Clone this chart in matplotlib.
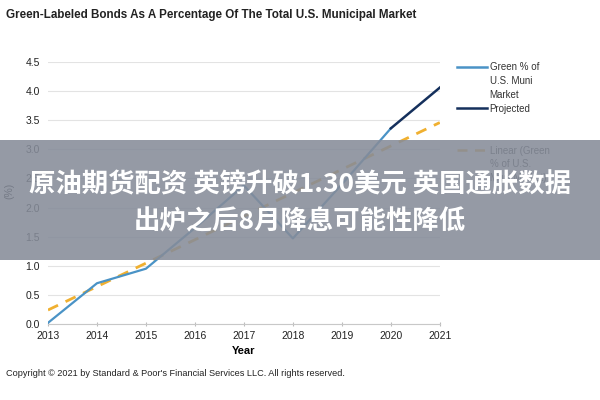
import matplotlib.pyplot as plt
from matplotlib.lines import Line2D
from matplotlib.patches import Rectangle

# values
years = [2013, 2014, 2015, 2016, 2017, 2018, 2019, 2020]
green_pct = [0.02, 0.70, 0.95, 1.65, 2.38, 1.47, 2.40, 3.36]
proj_years = [2020, 2021]
proj_pct = [3.36, 4.06]
trend_years = [2013, 2021]
trend_pct = [0.24, 3.46]

x_ticks = list(range(2013, 2022))
y_ticks = [0.0, 0.5, 1.0, 1.5, 2.0, 2.5, 3.0, 3.5, 4.0, 4.5]

legend_labels = ['Green % of\nU.S. Muni\nMarket', 'Projected', 'Linear (Green\n% of U.S.\nMuni Market)']

plt.rcParams['font.family'] = ['Liberation Sans', 'DejaVu Sans']

fig = plt.figure(figsize=(6, 4), dpi=100)
ax = fig.add_axes([0.08, 0.19, 0.653, 0.655])

green_c, proj_c, trend_c = '#4a93c6', '#15305c', '#f0b030'
trend_ls = (0, (4, 3))

ax.plot(years, green_pct, color=green_c, lw=1.6, zorder=3)
ax.plot(proj_years, proj_pct, color=proj_c, lw=1.8, zorder=3)
ax.plot(trend_years, trend_pct, color=trend_c, lw=2, ls=trend_ls, zorder=2)

ax.set_xlim(2013, 2021)
ax.set_ylim(0, 4.5)
ax.set_xticks(x_ticks)
ax.set_yticks(y_ticks)
ax.set_yticklabels([f'{v:.1f}' for v in y_ticks])
ax.tick_params(axis='both', labelsize=7.5, colors='#222222')
ax.tick_params(axis='y', length=0, pad=6)
ax.tick_params(axis='x', length=3, color='#bbbbbb', direction='inout')
ax.grid(axis='y', color='#e3e3e3', lw=0.8)
ax.set_axisbelow(True)
for s in ['top', 'right', 'left']:
    ax.spines[s].set_visible(False)
ax.spines['bottom'].set_color('#c8c8c8')

ax.set_xlabel('Year', fontsize=8, fontweight='bold', labelpad=4)
ax.set_ylabel('(%)', fontsize=7.5)
ax.yaxis.set_label_coords(-0.085, 0.51)

# legend drawn Excel-style: handle level with the first text line
leg_y = [0.833, 0.73, 0.625]
leg_c = [green_c, proj_c, trend_c]
leg_ls = ['-', '-', trend_ls]
for y, lab, c, ls in zip(leg_y, legend_labels, leg_c, leg_ls):
    fig.add_artist(Line2D([0.762, 0.811], [y, y], color=c, lw=1.8, ls=ls))
    fig.text(0.816, y + 0.011, lab, fontsize=7, color='#333333', va='top',
             linespacing=1.45)

fig.text(0.01, 0.962, 'Green-Labeled Bonds As A Percentage Of The Total U.S. Municipal Market',
         fontsize=8.4, fontweight='bold', color='#222222', va='center')
fig.text(0.01, 0.065, 'Copyright \u00a9 2021 by Standard & Poor\'s Financial Services LLC. All rights reserved.',
         fontsize=6.6, color='#222222', va='center')

# grey banner over the middle of the picture
fig.patches.append(Rectangle((0, 0.35), 1, 0.3, transform=fig.transFigure,
                             facecolor='#868c99', alpha=0.88, zorder=10))
cjk = ['Noto Sans CJK SC', 'DejaVu Sans']
fig.text(0.5, 0.538, '原油期货配资 英镑升破1.30美元 英国通胀数据', family=cjk,
         fontsize=19, fontweight='bold', color='white', ha='center', va='center', zorder=11)
fig.text(0.5, 0.446, '出炉之后8月降息可能性降低', family=cjk,
         fontsize=19, fontweight='bold', color='white', ha='center', va='center', zorder=11)

fig.savefig('out.png', dpi=100)
